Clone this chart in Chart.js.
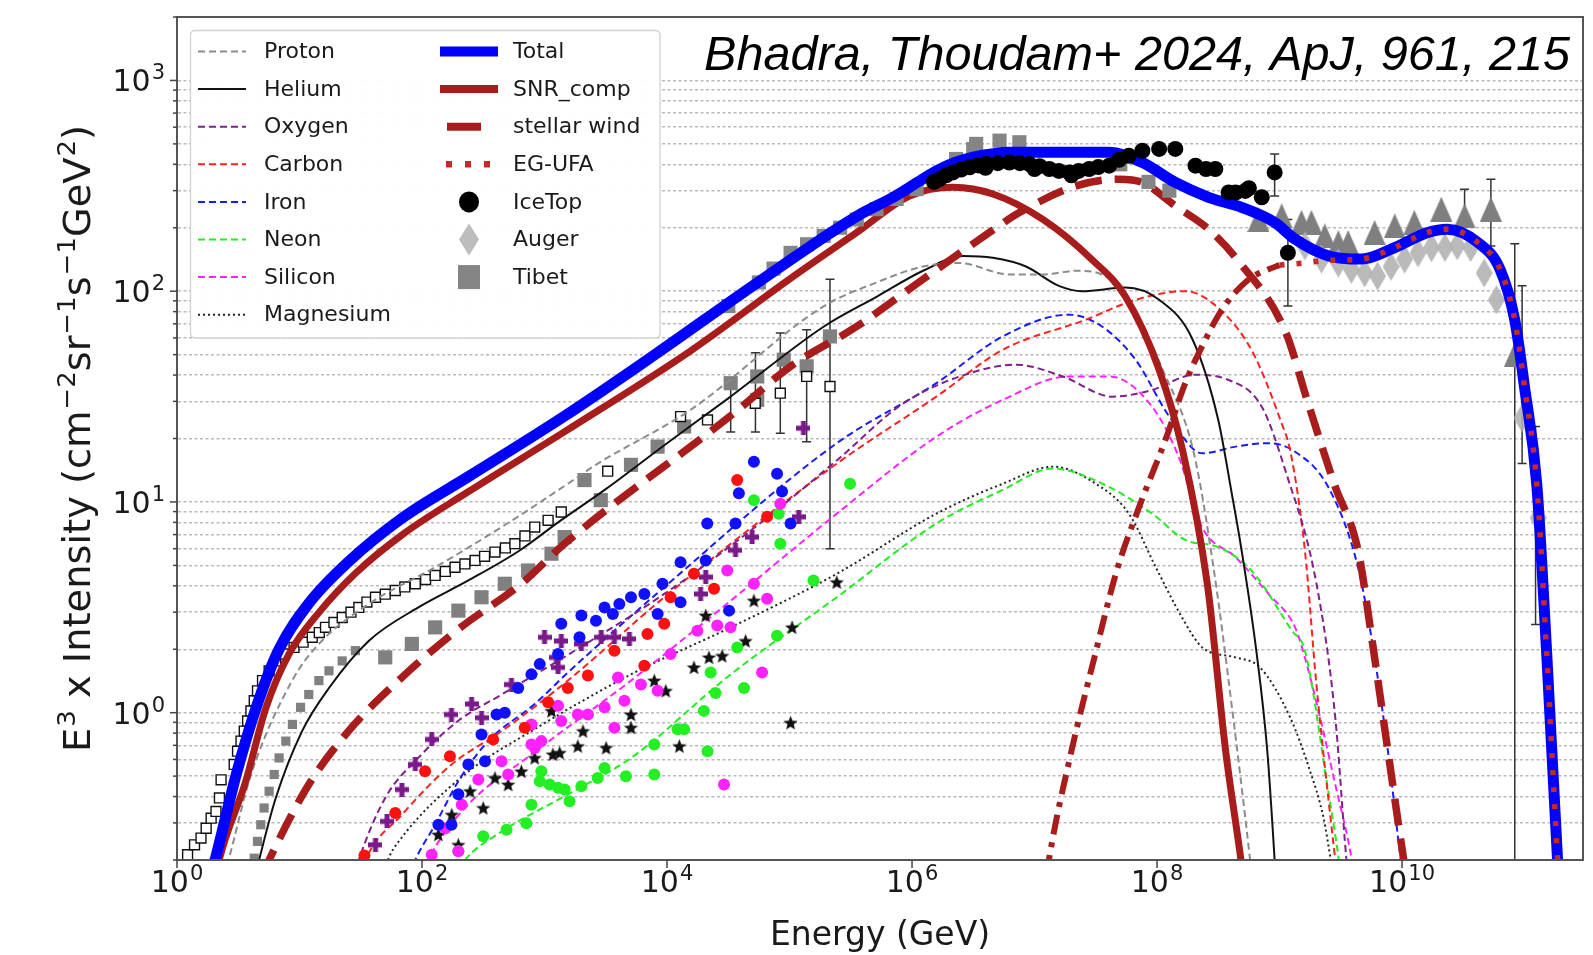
<!DOCTYPE html>
<html><head><meta charset="utf-8">
<script src="https://cdn.jsdelivr.net/npm/chart.js@4.4.1/dist/chart.umd.min.js"></script>
<style>html,body{margin:0;padding:0;background:#fff;}canvas{display:block;}</style>
</head><body>
<canvas id="c" width="1593" height="955" style="width:1593px;height:955px"></canvas>
<script>
// ================= DATA =================
const xTickValues = [1, 1e2, 1e4, 1e6, 1e8, 1e10];
const xTickExps = ['0', '2', '4', '6', '8', '10'];
const yTickValues = [1, 10, 100, 1000];
const yTickExps = ['0', '1', '2', '3'];

// model curves: energy (GeV) and E^3 x intensity
const totalE = [1.78, 2.09, 3.02, 4.41, 6.81, 11.9, 25.1, 69.2, 240, 1450, 8320, 5.5e4, 3.55e5, 7.08e5, 1.12e6, 1.58e6, 2.24e6, 3.16e6, 4.47e6, 6.17e6, 3.98e7, 7.59e7, 1.41e8, 2.63e8, 4.9e8, 9.12e8, 1.35e9, 2.51e9, 4.68e9, 8.71e9, 1.62e10, 2.34e10, 4.17e10, 6.31e10, 8.32e10, 1.0e11, 1.26e11, 1.51e11, 1.86e11, 2.0e11];
const totalI = [0.15, 0.21, 0.5, 1.05, 2.0, 3.3, 5.2, 8.4, 13.2, 25.5, 50.9, 110, 227, 280, 330, 372, 408, 433, 448, 456, 456, 408, 328, 279, 250, 212, 176, 147, 142, 161, 190, 197, 170, 127, 73, 35, 12, 2.0, 0.2, 0.1];

const snrE = [2.0, 2.21, 3.63, 5.31, 8.22, 14.5, 28.8, 69.2, 240, 1450, 1.55e4, 1.02e5, 3.55e5, 9.55e5, 2.16e6, 4.57e6, 1.17e7, 2.95e7, 5.5e7, 1.04e8, 1.62e8, 2.57e8, 3.63e8, 4.84e8, 5.62e8];
const snrI = [0.15, 0.2, 0.47, 1.05, 1.9, 3.0, 4.6, 7.0, 11.2, 21.5, 52, 115, 190, 283, 311, 289, 219, 141, 94.6, 42.4, 17.5, 4.1, 0.66, 0.2, 0.1];

const windE = [5.01, 5.65, 11.9, 25.1, 68.5, 198, 646, 1460, 3.52e4, 1.02e5, 3.54e5, 1.23e6, 4.29e6, 7.52e6, 2.19e7, 4.9e7, 7.59e7, 1.41e8, 2.63e8, 4.57e8, 1.12e9, 1.71e9, 2.82e9, 4.37e9, 5.75e9, 7.67e9, 1.02e10, 1.12e10];
const windI = [0.17, 0.2, 0.456, 0.818, 1.47, 2.49, 4.09, 6.34, 26.4, 44, 68, 114, 190, 236, 316, 340, 328, 254, 197, 140, 64, 29.4, 12, 5.9, 2.12, 0.657, 0.21, 0.15];

const egRiseE = [1.26e7, 1.31e7, 2.0e7, 3.06e7, 4.68e7, 7.16e7, 1.17e8, 1.7e8, 2.33e8, 3.39e8, 5.62e8, 8.13e8, 1.0e9];
const egRiseI = [0.17, 0.2, 0.657, 1.8, 4.7, 9.5, 19.7, 36.6, 54.7, 81.8, 114, 127, 133];

const egufaE = [1.0e9, 1.58e9, 2.51e9, 4.68e9, 8.71e9, 1.62e10, 2.34e10, 4.17e10, 6.31e10, 8.32e10, 1.0e11, 1.26e11, 1.51e11, 1.86e11, 2.0e11];
const egufaI = [133, 136, 140, 142, 161, 190, 197, 170, 127, 73, 35, 12, 2.0, 0.2, 0.1];

const protonE = [2.24, 2.63, 3.98, 8.71, 14.4, 36.7, 128, 447, 1550, 2720, 1.55e4, 1.91e5, 5.13e5, 1.23e6, 2.45e6, 6.24e6, 1.17e7, 2.19e7, 3.55e7, 5.62e7, 1.12e8, 2.0e8, 2.95e8, 3.98e8, 5.75e8, 6.31e8];
const protonI = [0.15, 0.2, 0.5, 1.42, 2.12, 3.28, 4.9, 7.6, 12.2, 15.2, 27.3, 85, 110, 131, 136, 120, 120, 125, 120, 95, 42, 17, 4.5, 1.2, 0.2, 0.12];

const heliumE = [4.17, 4.68, 6.4, 10.5, 17.4, 36.7, 93.3, 239, 631, 1290, 3160, 1.0e4, 3.16e4, 1.91e5, 5.13e5, 1.23e6, 2.63e6, 4.57e6, 8.51e6, 1.58e7, 2.45e7, 5.5e7, 1.04e8, 1.95e8, 3.16e8, 4.07e8, 4.9e8, 6.46e8, 7.94e8, 9.12e8, 9.77e8];
const heliumI = [0.15, 0.2, 0.394, 0.818, 1.31, 2.19, 3.16, 4.24, 5.9, 8.0, 11.5, 19, 31, 68, 94, 125, 147, 144, 131, 106, 100, 104, 91, 59, 24.5, 11, 5.9, 1.97, 0.66, 0.2, 0.1];

const oxygenE = [28.2, 30.5, 50.1, 93.3, 200, 447, 1480, 9490, 6.17e4, 2.51e5, 8.51e5, 2.95e6, 7.08e6, 1.7e7, 4.33e7, 9.12e7, 2.0e8, 3.8e8, 7.16e8, 1.12e9, 2.0e9, 2.85e9, 3.52e9, 3.72e9];
const oxygenI = [0.17, 0.2, 0.394, 0.61, 0.92, 1.22, 1.85, 3.66, 8.18, 16, 29.4, 40.8, 44.8, 39.4, 31.6, 34, 40.1, 38, 28.3, 14, 4.1, 0.95, 0.2, 0.15];

const carbonE = [31.6, 34.5, 68.5, 174, 447, 1550, 9490, 2.43e5, 1.58e6, 5.5e6, 2.63e7, 6.68e7, 1.7e8, 2.82e8, 5.89e8, 1.04e9, 1.22e9, 1.61e9, 2.0e9, 2.85e9, 3.02e9];
const carbonI = [0.17, 0.2, 0.328, 0.568, 0.818, 1.42, 3.53, 15.2, 31.6, 52.7, 73.3, 91, 100, 88, 52.7, 23.6, 17.6, 5.9, 1.36, 0.2, 0.15];

const ironE = [79.4, 88.1, 128, 198, 347, 832, 1550, 9490, 2.43e5, 1.58e6, 5.5e6, 1.91e7, 3.55e7, 6.68e7, 1.26e8, 2.34e8, 4.37e8, 8.13e8, 1.34e9, 2.49e9, 4.37e9, 5.75e9, 7.67e9, 9.77e9, 1.05e10];
const ironI = [0.17, 0.2, 0.294, 0.473, 0.733, 1.1, 1.55, 3.94, 19, 36.6, 61, 77.4, 68, 47.3, 25.4, 17, 18.3, 19, 17.3, 11.8, 4.9, 2.1, 0.657, 0.2, 0.15];

const neonE = [200, 224, 447, 1550, 5080, 3.31e4, 2.43e5, 1.58e6, 5.5e6, 1.41e7, 3.59e7, 9.12e7, 1.7e8, 3.16e8, 5.89e8, 1.26e9, 1.61e9, 2.45e9, 3.05e9, 3.24e9];
const neonI = [0.18, 0.2, 0.273, 0.41, 0.61, 1.52, 3.53, 7.9, 11.4, 14.4, 12.2, 8.8, 6.6, 6.1, 4.73, 2.45, 1.97, 0.456, 0.2, 0.15];

const siliconE = [100, 112, 224, 782, 5080, 3.31e4, 2.43e5, 1.58e6, 5.5e6, 1.91e7, 4.06e7, 9.12e7, 1.5e8, 2.33e8, 4.37e8, 8.13e8, 1.34e9, 1.61e9, 2.14e9, 2.85e9, 3.89e9, 4.17e9];
const siliconI = [0.17, 0.2, 0.353, 0.634, 1.42, 3.4, 8.8, 20.4, 30.5, 39.4, 39.4, 28.3, 16.4, 7.6, 5.47, 3.66, 2.54, 1.83, 0.95, 0.456, 0.2, 0.15];

const magnesiumE = [50.1, 53.5, 64.6, 224, 782, 5080, 3.31e4, 2.43e5, 1.58e6, 5.5e6, 1.41e7, 3.16e7, 5.89e7, 9.77e7, 1.6e8, 2.34e8, 4.37e8, 6.92e8, 1.22e9, 1.74e9, 2.29e9, 2.63e9, 2.82e9];
const magnesiumI = [0.18, 0.204, 0.245, 0.51, 0.818, 1.52, 2.54, 4.56, 8.8, 12.2, 14.7, 12.2, 8.8, 4.9, 2.83, 2.04, 1.83, 1.64, 0.95, 0.547, 0.316, 0.2, 0.17];

// measurements
const iceTopE = [1.51e6, 1.68e6, 1.9e6, 2.16e6, 2.51e6, 2.95e6, 3.47e6, 3.98e6, 4.04e6, 5.01e6, 6.24e6, 7.59e6, 9.08e6, 1.0e7, 1.1e7, 1.32e7, 1.58e7, 1.92e7, 2.0e7, 2.29e7, 2.79e7, 3.31e7, 4.06e7, 4.9e7, 5.89e7, 7.59e7, 1.04e8, 1.41e8, 2.06e8, 2.51e8, 2.99e8, 3.84e8, 4.37e8, 5.25e8, 5.62e8, 7.16e8, 9.12e8, 1.17e9];
const iceTopI = [330, 340, 355, 366, 378, 387, 395, 385, 401, 405, 408, 405, 401, 380, 392, 380, 372, 366, 355, 372, 380, 388, 394, 420, 439, 464, 473, 473, 394, 380, 380, 294, 294, 299, 308, 279, 366, 152];

const augerE = [1.61e9, 2.2e9, 3.02e9, 3.86e9, 4.95e9, 6.31e9, 8.13e9, 1.05e10, 1.35e10, 1.74e10, 2.24e10, 2.82e10, 3.63e10, 4.68e10, 5.89e10, 9.55e10, 1.29e11];
const augerI = [164, 142, 136, 127, 122, 118, 131, 142, 152, 161, 161, 164, 161, 122, 91, 25, 8.4];

const tibetE = [3.16e4, 5.62e4, 7.41e4, 1.02e5, 1.39e5, 1.9e5, 2.59e5, 3.54e5, 5.13e5, 7.48e5, 1.09e6, 1.58e6, 2.29e6, 3.16e6, 3.34e6, 5.18e6, 7.52e6, 5.01e7, 8.51e7, 1.26e8];
const tibetI = [85, 110, 128, 152, 167, 183, 200, 219, 245, 274, 305, 353, 424, 473, 500, 518, 509, 400, 330, 300];

const triE = [6.73e8, 1.04e9, 1.51e9, 1.82e9, 2.34e9, 3.02e9, 3.63e9, 5.97e9, 8.71e9, 1.26e10, 2.09e10, 3.24e10, 5.31e10, 8.32e10];
const triI = [219, 228, 212, 212, 183, 170, 170, 190, 204, 212, 245, 228, 245, 50];

const openSqE = [1.22, 1.39, 1.57, 1.73, 1.9, 2.08, 2.22, 2.29, 2.93, 3.12, 3.33, 3.54, 3.77, 4.01, 4.27, 4.54, 4.99, 5.65, 6.4, 7.48, 9.02, 10.7, 12.7, 14.5, 16.3, 19.1, 22.3, 26.3, 30.5, 35.5, 41.7, 50.1, 60.5, 72.4, 88.1, 107, 128, 155, 186, 224, 271, 324, 394, 479, 573, 692, 832, 1070, 1370, 3280, 1.29e4, 2.14e4, 5.25e4, 8.41e4, 1.38e5, 2.14e5];
const openSqI = [0.212, 0.236, 0.254, 0.283, 0.316, 0.34, 0.394, 0.48, 0.568, 0.657, 0.733, 0.818, 0.913, 1.02, 1.14, 1.27, 1.42, 1.58, 1.76, 1.9, 2.04, 2.16, 2.28, 2.4, 2.54, 2.68, 2.83, 3.0, 3.16, 3.35, 3.53, 3.65, 3.8, 3.95, 4.09, 4.28, 4.48, 4.68, 4.9, 5.08, 5.28, 5.52, 5.78, 6.05, 6.34, 6.9, 7.6, 8.18, 8.96, 14.0, 25.4, 24.5, 29.4, 32.8, 39.4, 35.3];

const heBandE = [4.27, 4.54, 4.83, 5.14, 5.65, 6.21, 6.81, 7.73, 8.75, 10.2, 11.9, 14.4, 17.4, 22.3, 28.6];
const heBandI = [0.204, 0.245, 0.294, 0.353, 0.424, 0.509, 0.61, 0.733, 0.88, 1.06, 1.22, 1.42, 1.58, 1.76, 1.97];

const heSqE = [50.1, 82.6, 128, 198, 306, 474, 735, 1140, 1460, 2120, 2880, 5080, 8380, 1.38e4, 3.31e4, 5.45e4, 5.45e4, 8.97e4, 1.38e5, 2.14e5];
const heSqI = [1.83, 2.12, 2.54, 3.05, 3.53, 4.09, 4.73, 5.68, 6.81, 12.7, 10.2, 15, 18.3, 22.8, 36.6, 30.5, 39.4, 47.3, 44, 61];

const blueDataE = [136, 174, 198, 239, 306, 327, 406, 474, 610, 782, 914, 1290, 1370, 1930, 2000, 2630, 3090, 3610, 4080, 5080, 6530, 8380, 9180, 1.29e4, 1.29e4, 2.07e4, 2.13e4, 3.21e4, 3.62e4, 3.86e4, 5.12e4, 7.91e4, 8.69e4, 1.02e5];
const blueDataI = [0.294, 0.294, 0.41, 0.568, 0.789, 0.589, 0.98, 1.0, 1.31, 1.52, 1.7, 1.9, 2.64, 2.28, 2.89, 2.73, 3.16, 2.94, 3.28, 3.53, 3.66, 2.94, 4.09, 5.18, 3.34, 5.28, 7.9, 3.05, 7.9, 11, 15.5, 13.6, 11.2, 7.9];

const redDataE = [33.9, 60.5, 106, 169, 381, 690, 1070, 1550, 2260, 3720, 6530, 6930, 9490, 1.07e4, 1.66e4, 2.42e4, 3.74e4, 6.56e4];
const redDataI = [0.21, 0.334, 0.527, 0.622, 0.747, 0.849, 1.12, 1.31, 1.5, 1.97, 1.67, 2.36, 2.64, 3.53, 4.56, 3.87, 12.7, 8.5];

const magDataE = [120, 155, 198, 211, 288, 446, 505, 782, 832, 942, 782, 1290, 1370, 1870, 2260, 3090, 3720, 3980, 4490, 6120, 8380, 1.07e4, 1.77e4, 2.57e4, 3.1e4, 3.3e4, 5.12e4, 5.97e4, 6.56e4, 2.92e4, 8.41e4];
const magDataI = [0.212, 0.283, 0.22, 0.366, 0.482, 0.589, 0.509, 0.707, 0.68, 0.733, 0.88, 1.08, 0.913, 0.98, 0.98, 1.06, 0.849, 1.47, 1.14, 1.36, 1.27, 1.9, 2.45, 2.59, 4.73, 2.54, 4.09, 1.55, 3.47, 0.456, 9.8];

const greenDataE = [198, 316, 490, 711, 782, 942, 914, 1100, 1290, 1460, 1600, 2000, 2720, 3090, 4620, 7870, 7870, 1.22e4, 1.38e4, 2.14e4, 2.0e4, 2.27e4, 2.49e4, 3.74e4, 4.25e4, 7.91e4, 8.41e4, 5.12e4, 8.17e4, 3.12e5, 1.57e5];
const greenDataI = [0.22, 0.259, 0.278, 0.299, 0.366, 0.527, 0.473, 0.456, 0.44, 0.432, 0.38, 0.448, 0.49, 0.547, 0.5, 0.509, 0.707, 0.834, 0.834, 0.657, 1.02, 1.55, 1.24, 2.04, 1.31, 2.32, 6.34, 10.2, 8.8, 12.2, 4.24];

const purpleDataE = [41.7, 51.8, 68.5, 88.1, 120, 174, 254, 306, 537, 1000, 1250, 1290, 1370, 2000, 2900, 3720, 4930, 1.88e4, 2.07e4, 3.62e4, 4.95e4, 1.19e5, 1.3e5];
const purpleDataI = [0.236, 0.305, 0.432, 0.568, 0.747, 0.98, 1.1, 0.946, 1.36, 2.28, 1.83, 1.64, 2.19, 2.12, 2.28, 2.28, 2.24, 3.66, 4.4, 5.9, 6.81, 8.5, 22.4];

const starDataE = [136, 198, 175, 247, 316, 394, 505, 647, 832, 1140, 1170, 1330, 1870, 2060, 3180, 5080, 5080, 7870, 9770, 1.26e4, 1.66e4, 2.2e4, 2.82e4, 4.38e4, 5.12e4, 2.07e4, 1.05e5, 2.43e5, 1.02e5];
const starDataI = [0.264, 0.236, 0.328, 0.424, 0.353, 0.49, 0.456, 0.527, 0.61, 1.02, 0.634, 0.645, 0.694, 0.818, 0.681, 0.98, 0.849, 1.42, 1.27, 0.694, 1.64, 1.83, 1.86, 2.19, 3.4, 2.89, 2.54, 4.16, 0.896];

// error bars (energy, low, high)
const errE = [3.31e4, 5.27e4, 8.41e4, 1.38e5, 2.14e5, 9.12e8, 1.17e9, 3.24e10, 5.31e10, 8.32e10, 9.55e10, 1.23e11];
const errLo = [21.5, 21.5, 21.2, 19.3, 6.0, 283, 85, 190, 164, 0.1, 15.2, 2.62];
const errHi = [38.7, 51, 63.4, 65.7, 114, 448, 219, 305, 340, 168, 106, 22.8];

// legend labels
const legendCol1 = ['Proton', 'Helium', 'Oxygen', 'Carbon', 'Iron', 'Neon', 'Silicon', 'Magnesium'];
const legendCol2 = ['Total', 'SNR_comp', 'stellar wind', 'EG-UFA', 'IceTop', 'Auger', 'Tibet'];
const citation = 'Bhadra, Thoudam+ 2024, ApJ, 961, 215';

// ================= STYLING / CHART =================
const FONT = '"DejaVu Sans", "Noto Sans", sans-serif';
const DRED = '#a81c1c';
const pts = (E, I) => E.map((e, i) => ({x: e, y: I[i]}));

function mk(w, h, draw) { const c = document.createElement('canvas'); c.width = w; c.height = h; draw(c.getContext('2d'), w, h); return c; }
const starImg = mk(15, 15, (g, w) => { g.fillStyle = '#111'; g.beginPath(); for (let i = 0; i < 10; i++) { const a = -Math.PI / 2 + i * Math.PI / 5, r = i % 2 ? w * 0.22 : w / 2; g.lineTo(w / 2 + r * Math.cos(a), w / 2 + 0.6 + r * Math.sin(a)); } g.closePath(); g.fill(); });
const plusImg = mk(14, 14, (g, w) => { g.fillStyle = '#7a1a8a'; g.fillRect(0, 4.5, w, 5); g.fillRect(4.5, 0, 5, w); });
const triImg = mk(22, 25, (g, w, h) => { g.fillStyle = '#7f7f7f'; g.beginPath(); g.moveTo(w / 2, 0); g.lineTo(w, h); g.lineTo(0, h); g.closePath(); g.fill(); });
const diaImg = mk(17, 29, (g, w, h) => { g.fillStyle = 'rgba(178,178,178,0.9)'; g.beginPath(); g.moveTo(w / 2, 0); g.lineTo(w, h / 2); g.lineTo(w / 2, h); g.lineTo(0, h / 2); g.closePath(); g.fill(); });

function curve(label, E, I, color, width, dash, order, kind) {
  return {label, data: pts(E, I), showLine: true, borderColor: color, backgroundColor: color, borderWidth: width,
    borderDash: dash, borderCapStyle: 'butt', pointRadius: 0, pointHoverRadius: 0, cubicInterpolationMode: 'monotone',
    order, clip: 0, legendKind: kind};
}
function marks(label, E, I, style, radius, fill, stroke, bw, order, kind) {
  return {label, data: pts(E, I), showLine: false, pointStyle: style, pointRadius: radius, pointHoverRadius: radius,
    backgroundColor: fill, borderColor: stroke, borderWidth: bw, order, clip: 0, legendKind: kind};
}

const datasets = [
  curve('EG-UFA', egufaE, egufaI, '#c42a2a', 5.5, [5, 12], 1, 'dots'),
  marks('IceTop', iceTopE, iceTopI, 'circle', 8, '#000', '#000', 0, 2, 'circle'),
  curve('Total', totalE, totalI, '#0000ff', 11, [], 3, 'line'),
  marks('Auger', augerE, augerI, diaImg, 6, '#bbb', '#bbb', 0, 4, 'diamond'),
  marks('triangles', triE, triI, triImg, 6, '#808080', '#808080', 0, 5, null),
  marks('Tibet', tibetE, tibetI, 'rect', 10, '#858585', '#858585', 0, 6, 'square'),
  curve('EG-UFA rise', egRiseE, egRiseI, DRED, 6, [20, 8, 5, 8], 7, null),
  curve('SNR_comp', snrE, snrI, DRED, 7, [], 8, 'line'),
  curve('stellar wind', windE, windI, DRED, 7.5, [27, 13], 9, 'seg'),
  marks('Fe data', blueDataE, blueDataI, 'circle', 6, '#1010ff', '#1010ff', 0, 10, null),
  marks('C data', redDataE, redDataI, 'circle', 6, '#ff1010', '#ff1010', 0, 11, null),
  marks('Si data', magDataE, magDataI, 'circle', 6, '#ff22ff', '#ff22ff', 0, 12, null),
  marks('Ne data', greenDataE, greenDataI, 'circle', 6, '#22f022', '#22f022', 0, 13, null),
  marks('O data', purpleDataE, purpleDataI, plusImg, 6, '#7a1a8a', '#7a1a8a', 0, 14, null),
  marks('Mg data', starDataE, starDataI, starImg, 6, '#111', '#111', 0, 15, null),
  curve('Proton', protonE, protonI, '#8c8c8c', 2, [7, 4], 16, 'line'),
  curve('Helium', heliumE, heliumI, '#111111', 2, [], 17, 'line'),
  curve('Oxygen', oxygenE, oxygenI, '#80208a', 2, [7, 4], 18, 'line'),
  curve('Carbon', carbonE, carbonI, '#ff2020', 2, [7, 4], 19, 'line'),
  curve('Iron', ironE, ironI, '#1a1aff', 2, [7, 4], 20, 'line'),
  curve('Neon', neonE, neonI, '#22ee22', 2, [7, 4], 21, 'line'),
  curve('Silicon', siliconE, siliconI, '#ff22ff', 2, [7, 4], 22, 'line'),
  curve('Magnesium', magnesiumE, magnesiumI, '#222222', 2, [2, 3], 23, 'line'),
  marks('p data', openSqE, openSqI, 'rect', 7, '#ffffff', '#111', 1.4, 24, null),
  marks('He band', heBandE, heBandI, 'rect', 6.5, '#808080', '#808080', 0, 25, null),
  marks('He data', heSqE, heSqI, 'rect', 10, '#808080', '#808080', 0, 26, null),
];

function drawPow(ctx, exp, x, yBase, align) {
  ctx.font = '30px ' + FONT; const wb = ctx.measureText('10').width;
  ctx.font = '21px ' + FONT; const we = ctx.measureText(exp).width;
  const tot = wb + 1 + we;
  const left = align === 'right' ? x - tot : x - tot / 2;
  ctx.font = '30px ' + FONT; ctx.fillText('10', left, yBase);
  ctx.font = '21px ' + FONT; ctx.fillText(exp, left + wb + 1, yBase - 12);
}

function roundRect(ctx, x, y, w, h, r) {
  ctx.beginPath(); ctx.moveTo(x + r, y); ctx.lineTo(x + w - r, y); ctx.quadraticCurveTo(x + w, y, x + w, y + r);
  ctx.lineTo(x + w, y + h - r); ctx.quadraticCurveTo(x + w, y + h, x + w - r, y + h); ctx.lineTo(x + r, y + h);
  ctx.quadraticCurveTo(x, y + h, x, y + h - r); ctx.lineTo(x, y + r); ctx.quadraticCurveTo(x, y, x + r, y); ctx.closePath();
}

function drawHandle(ctx, ds, x0, x1, y) {
  const mid = (x0 + x1) / 2;
  ctx.save();
  ctx.strokeStyle = ds.borderColor; ctx.fillStyle = ds.backgroundColor; ctx.lineCap = 'butt';
  switch (ds.legendKind) {
    case 'line':
      ctx.lineWidth = ds.borderWidth >= 7 ? 8 : ds.borderWidth; ctx.setLineDash(ds.borderDash || []);
      if (ds.label === 'Total') ctx.lineWidth = 10;
      ctx.beginPath(); ctx.moveTo(x0, y); ctx.lineTo(x1, y); ctx.stroke(); break;
    case 'seg':
      ctx.lineWidth = 8; ctx.beginPath(); ctx.moveTo(x0 + 7, y); ctx.lineTo(x0 + 41, y); ctx.stroke(); break;
    case 'dots':
      ctx.lineWidth = 6.5; ctx.setLineDash([6, 13]); ctx.beginPath(); ctx.moveTo(x0 + 6, y); ctx.lineTo(x1, y); ctx.stroke(); break;
    case 'circle':
      ctx.fillStyle = '#000'; ctx.beginPath(); ctx.ellipse(mid, y, 10, 10.5, 0, 0, Math.PI * 2); ctx.fill(); break;
    case 'diamond':
      ctx.fillStyle = 'rgba(185,185,185,0.95)'; ctx.beginPath(); ctx.moveTo(mid, y - 16); ctx.lineTo(mid + 10, y); ctx.lineTo(mid, y + 16); ctx.lineTo(mid - 10, y); ctx.closePath(); ctx.fill(); break;
    case 'square':
      ctx.fillStyle = '#858585'; ctx.fillRect(mid - 11, y - 12, 22, 24); break;
  }
  ctx.restore();
}

const decor = {
  id: 'decor',
  beforeDraw(chart) {
    const ctx = chart.ctx; ctx.save(); ctx.fillStyle = '#fff'; ctx.fillRect(0, 0, chart.width, chart.height); ctx.restore();
  },
  beforeDatasetsDraw(chart) {
    const {ctx, chartArea: a, scales: {x, y}} = chart;
    ctx.save();
    ctx.beginPath(); ctx.rect(a.left, a.top, a.right - a.left, a.bottom - a.top); ctx.clip();
    ctx.strokeStyle = '#333'; ctx.lineWidth = 1.5;
    errE.forEach((e, i) => {
      const px = x.getPixelForValue(e), p1 = y.getPixelForValue(errLo[i]), p2 = y.getPixelForValue(errHi[i]);
      ctx.beginPath(); ctx.moveTo(px, p1); ctx.lineTo(px, p2);
      ctx.moveTo(px - 4.5, p1); ctx.lineTo(px + 4.5, p1); ctx.moveTo(px - 4.5, p2); ctx.lineTo(px + 4.5, p2);
      ctx.stroke();
    });
    ctx.restore();
  },
  afterDraw(chart) {
    const {ctx, chartArea: a, scales: {x, y}} = chart;
    ctx.save();
    ctx.strokeStyle = '#555'; ctx.lineWidth = 2;
    ctx.strokeRect(a.left, a.top, a.right - a.left, a.bottom - a.top);
    ctx.strokeStyle = '#444'; ctx.lineWidth = 1.5;
    y.ticks.forEach(t => {
      const py = y.getPixelForValue(t.value);
      const major = yTickValues.includes(t.value);
      ctx.beginPath(); ctx.moveTo(a.left - (major ? 7 : 4), py); ctx.lineTo(a.left, py); ctx.stroke();
    });
    xTickValues.forEach(v => {
      const px = x.getPixelForValue(v);
      ctx.beginPath(); ctx.moveTo(px, a.bottom); ctx.lineTo(px, a.bottom + 8); ctx.stroke();
    });
    ctx.fillStyle = '#1a1a1a'; ctx.textBaseline = 'alphabetic'; ctx.textAlign = 'left';
    yTickValues.forEach((v, i) => drawPow(ctx, yTickExps[i], a.left - 12, y.getPixelForValue(v) + 11, 'right'));
    xTickValues.forEach((v, i) => drawPow(ctx, xTickExps[i], x.getPixelForValue(v), a.bottom + 32, 'center'));
    ctx.font = '33px ' + FONT; ctx.textAlign = 'center';
    ctx.fillText('Energy (GeV)', (a.left + a.right) / 2, 945);
    const parts = [['E', 0], ['3', 1], [' x Intensity (cm', 0], ['\u22122', 1], ['sr', 0], ['\u22121', 1], ['s', 0], ['\u22121', 1], ['GeV', 0], ['2', 1], [')', 0]];
    const fB = '37px ' + FONT, fS = '25px ' + FONT;
    let W = 0; const ws = parts.map(p => { ctx.font = p[1] ? fS : fB; const w = ctx.measureText(p[0]).width + (p[1] ? 1 : 0); W += w; return w; });
    ctx.save(); ctx.translate(90, (a.top + a.bottom) / 2); ctx.rotate(-Math.PI / 2); ctx.scale(627 / W, 1);
    ctx.textAlign = 'left'; let cx = -W / 2;
    parts.forEach((p, i) => { ctx.font = p[1] ? fS : fB; ctx.fillText(p[0], cx + (p[1] ? 1 : 0), p[1] ? -15 : 0); cx += ws[i]; });
    ctx.restore();
    roundRect(ctx, 190.5, 30.5, 469.5, 307.5, 5);
    ctx.fillStyle = 'rgba(255,255,255,0.95)'; ctx.fill();
    ctx.strokeStyle = '#d2d2d2'; ctx.lineWidth = 1.3; ctx.stroke();
    const cols = [{x0: 198, x1: 246, tx: 264, labels: legendCol1}, {x0: 440, x1: 498, tx: 513, labels: legendCol2}];
    cols.forEach(c => c.labels.forEach((lab, r) => {
      const yy = 51.5 + r * 37.6;
      const ds = chart.data.datasets.find(d => d.label === lab);
      drawHandle(ctx, ds, c.x0, c.x1, yy);
      ctx.fillStyle = '#1a1a1a'; ctx.font = '22px ' + FONT; ctx.textAlign = 'left'; ctx.textBaseline = 'middle';
      ctx.fillText(lab, c.tx, yy + 1);
    }));
    ctx.textBaseline = 'alphabetic'; ctx.textAlign = 'left';
    ctx.font = 'italic 49px "Liberation Sans", Arial, sans-serif';
    const cw = ctx.measureText(citation).width;
    ctx.translate(704, 70); ctx.scale(866 / cw, 1); ctx.fillStyle = '#000';
    ctx.fillText(citation, 0, 0);
    ctx.restore();
  }
};

const yGridValues = [];
[0.1, 1, 10, 100, 1000].forEach(d => { for (let m = 1; m <= 9; m++) { const v = +(d * m).toPrecision(3); if (v >= 0.2 && v <= 2000) yGridValues.push(v); } });

new Chart(document.getElementById('c'), {
  type: 'scatter',
  data: {datasets},
  plugins: [decor],
  options: {
    responsive: false, animation: false, devicePixelRatio: 1, events: [],
    layout: {padding: {left: 0, right: 3, top: 17, bottom: 0}},
    plugins: {legend: {display: false}, tooltip: {enabled: false}},
    scales: {
      x: {
        type: 'logarithmic', min: 1, max: 3e11, position: 'bottom',
        afterBuildTicks: s => { s.ticks = xTickValues.map(v => ({value: v})); },
        afterFit: s => { s.height = 95; },
        grid: {display: true, drawOnChartArea: false, drawTicks: false},
        border: {display: true, color: '#555', width: 2},
        ticks: {display: false}
      },
      y: {
        type: 'logarithmic', min: 0.2, max: 2000, position: 'left',
        afterBuildTicks: s => { s.ticks = yGridValues.map(v => ({value: v})); },
        afterFit: s => { s.width = 177; },
        grid: {color: 'rgba(140,140,140,0.6)', lineWidth: 1.5, drawTicks: false},
        border: {display: true, color: '#555', width: 2, dash: [3, 2.5]},
        ticks: {display: false}
      }
    }
  }
});
</script>
</body></html>
